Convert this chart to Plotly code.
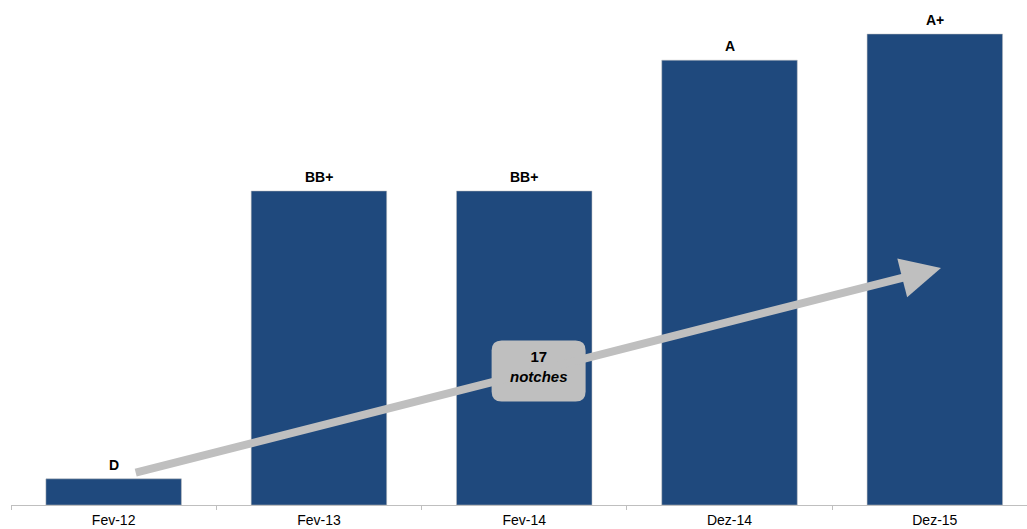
import plotly.graph_objects as go

categories = ["Fev-12", "Fev-13", "Fev-14", "Dez-14", "Dez-15"]
notch_values = [1, 12, 12, 17, 18]
ratings = ["D", "BB+", "BB+", "A", "A+"]
arrow_start = (0.10, 1.22)
arrow_end = (4.03, 9.06)
badge_pos = (2.07, 5.12)
badge_text = "<b>17</b><br><b><i>notches</i></b>"

FONT = "Liberation Sans, Arial"

fig = go.Figure()
fig.add_trace(go.Bar(
    x=categories, y=notch_values,
    marker=dict(color="#1F497D", line=dict(color="rgba(190,190,190,0.5)", width=1)),
    width=0.66,
))

for cat, val, lab in zip(categories, notch_values, ratings):
    fig.add_annotation(x=cat, y=val, xref="x", yref="y", text=f"<b>{lab}</b>",
                       showarrow=False, yanchor="middle", yshift=14,
                       font=dict(family=FONT, size=14, color="#000000"))

fig.add_annotation(
    x=arrow_end[0], y=arrow_end[1], ax=arrow_start[0], ay=arrow_start[1],
    xref="x", yref="y", axref="x", ayref="y",
    text="", showarrow=True, arrowhead=2, arrowsize=1.0, arrowwidth=8,
    arrowcolor="#BFBFBF",
)

w, h, r = 47, 30.5, 10
path = (f"M {-w+r},{-h} L {w-r},{-h} Q {w},{-h} {w},{-h+r} L {w},{h-r} Q {w},{h} {w-r},{h} "
        f"L {-w+r},{h} Q {-w},{h} {-w},{h-r} L {-w},{-h+r} Q {-w},{-h} {-w+r},{-h} Z")
fig.add_shape(type="path", xref="x", yref="y", xsizemode="pixel", ysizemode="pixel",
              xanchor=badge_pos[0], yanchor=badge_pos[1], path=path,
              fillcolor="#BFBFBF", line=dict(width=0), layer="above")
fig.add_annotation(x=badge_pos[0], y=badge_pos[1], xref="x", yref="y", text=badge_text,
                   showarrow=False, yshift=5,
                   font=dict(family=FONT, size=15, color="#000000"))

fig.update_layout(
    width=1027, height=529,
    margin=dict(l=11, r=0, t=0, b=24),
    plot_bgcolor="white", paper_bgcolor="white",
    showlegend=False,
    xaxis=dict(range=[-0.5, 4.449], showline=True, linecolor="#BFBFBF", linewidth=1,
               ticks="outside", ticklen=4, tickcolor="#BFBFBF", tickson="boundaries",
               ticklabelstandoff=2,
               tickfont=dict(family=FONT, size=14, color="#000000"),
               showgrid=False, zeroline=False),
    yaxis=dict(range=[0, 19.3], visible=False, showgrid=False, zeroline=False),
)

fig.write_html("out.html")
